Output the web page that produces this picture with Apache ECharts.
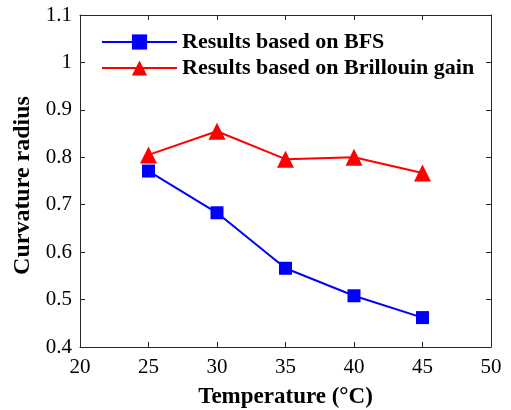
<!DOCTYPE html>
<html>
<head>
<meta charset="utf-8">
<script src="https://cdn.jsdelivr.net/npm/echarts@6/dist/echarts.min.js"></script>
<style>
  html, body { margin: 0; padding: 0; background: #fff; }
  #chart { width: 511px; height: 410px; }
</style>
</head>
<body>
<div id="chart"></div>
<script>
// temperature (°C) vs curvature radius
const temperatures = [25, 30, 35, 40, 45]
const bfsValues = [0.771, 0.683, 0.566, 0.508, 0.462]
const gainValues = [0.805, 0.855, 0.796, 0.800, 0.767]
const seriesNames = ['Results based on BFS', 'Results based on Brillouin gain']

const font = 'Liberation Serif, Times New Roman, serif'
const axisColor = '#262626'

const chart = echarts.init(document.getElementById('chart'))

function pairs(xs, ys) {
  return xs.map((x, i) => [x, ys[i]])
}

const baseX = {
  type: 'value',
  min: 20,
  max: 50,
  interval: 5,
  axisLine: { show: true, lineStyle: { color: axisColor, width: 1 } },
  axisTick: { show: true, inside: true, length: 5, lineStyle: { color: axisColor } },
  splitLine: { show: false }
}
const baseY = {
  type: 'value',
  min: 0.4,
  max: 1.1,
  interval: 0.1,
  axisLine: { show: true, lineStyle: { color: axisColor, width: 1 } },
  axisTick: { show: true, inside: true, length: 5, lineStyle: { color: axisColor } },
  splitLine: { show: false }
}

chart.setOption({
  animation: false,
  grid: { left: 80, right: 20, top: 15, bottom: 63, outerBoundsMode: 'none', containLabel: false },
  legend: {
    orient: 'vertical',
    left: 101,
    top: 31,
    padding: 0,
    itemWidth: 75,
    itemHeight: 19,
    itemGap: 4,
    textStyle: { fontFamily: font, fontWeight: 'bold', fontSize: 22, color: '#000' },
    data: seriesNames
  },
  xAxis: [
    Object.assign({}, baseX, {
      position: 'bottom',
      name: 'Temperature (°C)',
      nameLocation: 'middle',
      nameGap: 39,
      nameTextStyle: { fontFamily: font, fontWeight: 'bold', fontSize: 23, color: '#000' },
      axisLabel: {
        fontFamily: font, fontSize: 21, color: '#000', margin: 10,
        formatter: v => String(v)
      }
    }),
    Object.assign({}, baseX, { position: 'top', axisLabel: { show: false } })
  ],
  yAxis: [
    Object.assign({}, baseY, {
      position: 'left',
      name: 'Curvature radius',
      nameLocation: 'middle',
      nameGap: 44,
      nameTextStyle: { fontFamily: font, fontWeight: 'bold', fontSize: 24, color: '#000', padding: [0, 9, 0, 0] },
      axisLabel: {
        fontFamily: font, fontSize: 21, color: '#000', margin: 8,
        formatter: v => String(+v.toFixed(1))
      }
    }),
    Object.assign({}, baseY, { position: 'right', axisLabel: { show: false } })
  ],
  series: [
    {
      name: seriesNames[0],
      type: 'line',
      data: pairs(temperatures, bfsValues),
      symbol: 'rect',
      symbolSize: 13,
      lineStyle: { color: '#0000ff', width: 2 },
      itemStyle: { color: '#0000ff' }
    },
    {
      name: seriesNames[1],
      type: 'line',
      data: pairs(temperatures, gainValues),
      symbol: 'triangle',
      symbolSize: 17,
      lineStyle: { color: '#ff0000', width: 2 },
      itemStyle: { color: '#ff0000' }
    }
  ]
})
</script>
</body>
</html>
